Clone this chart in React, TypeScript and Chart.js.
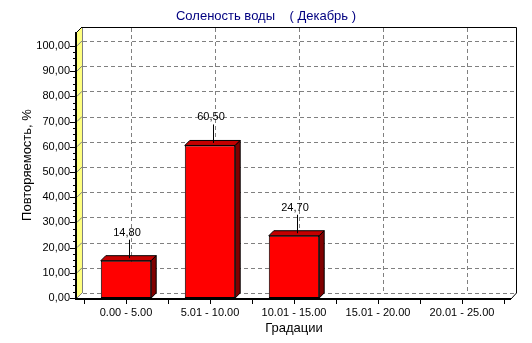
import React, { useEffect, useRef } from "react";
import { Chart, registerables } from "chart.js";

Chart.register(...registerables);

const titleText = "Соленость воды    ( Декабрь )";
const xAxisTitle = "Градации";
const yAxisTitle = "Повторяемость, %";
const categories = ["0.00 - 5.00", "5.01 - 10.00", "10.01 - 15.00", "15.01 - 20.00", "20.01 - 25.00"];
const values = [14.8, 60.5, 24.7, 0, 0];
const yTicks = [0, 10, 20, 30, 40, 50, 60, 70, 80, 90, 100];
const yMax = 105.5;

const FONT = "'Liberation Sans', Arial, sans-serif";
const D = 5; // 3D depth
const MARGIN = 7; // wall margin outside category area

const fmt = (v: number) => v.toFixed(2).replace(".", ",");

const walls3D = {
  id: "walls3D",
  beforeDatasetsDraw(chart: any) {
    const { ctx, chartArea } = chart;
    const ys = chart.scales.y;
    const xs = chart.scales.x;
    const FL = chartArea.left - MARGIN;
    const FR = chartArea.right + MARGIN;
    const FT = chartArea.top;
    const FB = chartArea.bottom;
    const BL = FL + D, BR = FR + D, BT = FT - D, BB = FB - D;
    ctx.save();
    ctx.fillStyle = "#ffffff";
    ctx.fillRect(BL, BT, BR - BL, BB - BT);
    ctx.fillStyle = "#ffff80";
    ctx.beginPath();
    ctx.moveTo(FL, FT); ctx.lineTo(BL, BT); ctx.lineTo(BL, BB); ctx.lineTo(FL, FB); ctx.closePath();
    ctx.fill();
    ctx.fillStyle = "#ffffff";
    ctx.beginPath();
    ctx.moveTo(FL, FB); ctx.lineTo(BL, BB); ctx.lineTo(BR, BB); ctx.lineTo(FR, FB); ctx.closePath();
    ctx.fill();

    ctx.lineWidth = 1;
    ctx.strokeStyle = "#808080";
    ctx.setLineDash([4, 3]);
    yTicks.forEach((v) => {
      const y = Math.round(ys.getPixelForValue(v) - D) + 0.5;
      ctx.beginPath();
      ctx.moveTo(BL + 1, y); ctx.lineTo(BR, y);
      ctx.stroke();
    });
    categories.forEach((_, i) => {
      const x = Math.round(xs.getPixelForValue(i) + D) + 0.5;
      ctx.beginPath();
      ctx.moveTo(x, BT + 1); ctx.lineTo(x, BB);
      ctx.stroke();
    });
    ctx.setLineDash([]);
    yTicks.forEach((v) => {
      const y = ys.getPixelForValue(v);
      ctx.beginPath();
      ctx.moveTo(FL, y); ctx.lineTo(BL, y - D);
      ctx.stroke();
    });
    ctx.beginPath();
    ctx.moveTo(BL + 0.5, BT); ctx.lineTo(BL + 0.5, BB);
    ctx.stroke();

    ctx.strokeStyle = "#000000";
    ctx.beginPath();
    ctx.moveTo(BL, BT + 0.5); ctx.lineTo(BR + 0.5, BT + 0.5); ctx.lineTo(BR + 0.5, BB);
    ctx.stroke();
    ctx.beginPath();
    ctx.moveTo(FL, FT); ctx.lineTo(BL, BT);
    ctx.stroke();
    ctx.beginPath();
    ctx.moveTo(FR, FB + 1); ctx.lineTo(BR + 0.5, BB);
    ctx.stroke();
    ctx.lineWidth = 2;
    ctx.beginPath();
    ctx.moveTo(FL - 1, FT); ctx.lineTo(FL - 1, FB + 2);
    ctx.stroke();
    ctx.beginPath();
    ctx.moveTo(FL - 2, FB + 1); ctx.lineTo(FR, FB + 1);
    ctx.stroke();

    ctx.lineWidth = 1;
    yTicks.forEach((v, i) => {
      const y = Math.round(ys.getPixelForValue(v)) + 0.5;
      ctx.beginPath();
      ctx.moveTo(FL - 7, y); ctx.lineTo(FL - 2, y);
      ctx.stroke();
      if (i < yTicks.length - 1) {
        const step = (yTicks[i + 1] - v) / 4;
        for (let k = 1; k < 4; k++) {
          const ym = Math.round(ys.getPixelForValue(v + step * k)) + 0.5;
          ctx.beginPath();
          ctx.moveTo(FL - 4, ym); ctx.lineTo(FL - 2, ym);
          ctx.stroke();
        }
      }
    });
    for (let i = -0.5; i <= categories.length - 0.5; i += 0.5) {
      const x = Math.round(xs.getPixelForValue(0) + i * (xs.getPixelForValue(1) - xs.getPixelForValue(0))) + 0.5;
      ctx.beginPath();
      ctx.moveTo(x, FB + 2); ctx.lineTo(x, FB + 6);
      ctx.stroke();
    }
    ctx.restore();
  },
};

const bars3D = {
  id: "bars3D",
  afterDatasetsDraw(chart: any) {
    const { ctx } = chart;
    const meta = chart.getDatasetMeta(0);
    ctx.save();
    meta.data.forEach((bar: any, i: number) => {
      const v = values[i];
      if (!v) return;
      const { x, y, base, width } = bar.getProps(["x", "y", "base", "width"], true);
      const l = x - width / 2;
      const r = x + width / 2;
      ctx.lineWidth = 1;
      ctx.strokeStyle = "#000000";
      ctx.fillStyle = "#c40000";
      ctx.beginPath();
      ctx.moveTo(l, y); ctx.lineTo(l + D, y - D); ctx.lineTo(r + D, y - D); ctx.lineTo(r, y); ctx.closePath();
      ctx.fill(); ctx.stroke();
      ctx.fillStyle = "#800000";
      ctx.beginPath();
      ctx.moveTo(r, y); ctx.lineTo(r + D, y - D); ctx.lineTo(r + D, base - D); ctx.lineTo(r, base); ctx.closePath();
      ctx.fill(); ctx.stroke();
      const lx = Math.round(x + D / 2) + 0.5;
      ctx.beginPath();
      ctx.moveTo(lx, y - D / 2); ctx.lineTo(lx, y - 21);
      ctx.stroke();
      ctx.fillStyle = "#000000";
      ctx.font = `11px ${FONT}`;
      ctx.textAlign = "center";
      ctx.textBaseline = "middle";
      ctx.fillText(fmt(v), x + 1, y - 28);
    });
    ctx.restore();
  },
};

export default function App() {
  const ref = useRef<HTMLCanvasElement | null>(null);
  useEffect(() => {
    if (!ref.current) return;
    const chart = new Chart(ref.current, {
      type: "bar",
      data: {
        labels: categories,
        datasets: [
          {
            data: values,
            backgroundColor: "#ff0000",
            borderColor: "#000000",
            borderWidth: 1,
            borderSkipped: false,
            categoryPercentage: 1,
            barPercentage: 0.6,
          },
        ],
      },
      options: {
        responsive: false,
        animation: false,
        devicePixelRatio: 1,
        layout: { padding: 0 },
        plugins: {
          legend: { display: false },
          tooltip: { enabled: false },
          title: {
            display: true,
            text: titleText,
            color: "#000080",
            font: { family: FONT, size: 13, weight: "normal" },
            padding: { top: 8.4, bottom: 8 },
          },
        },
        scales: {
          x: {
            offset: true,
            grid: { display: false, drawTicks: false },
            border: { display: false },
            ticks: { color: "#000000", font: { family: FONT, size: 11 }, padding: 8, maxRotation: 0, autoSkip: false },
            title: {
              display: true,
              text: xAxisTitle,
              color: "#000000",
              font: { family: FONT, size: 13 },
              padding: { top: 0, bottom: 7 },
            },
            afterFit: (s: any) => { s.height = 45; },
          },
          y: {
            min: 0,
            max: yMax,
            grid: { display: false, drawTicks: false },
            border: { display: false },
            afterBuildTicks: (s: any) => { s.ticks = yTicks.map((v) => ({ value: v })); },
            ticks: {
              color: "#000000",
              font: { family: FONT, size: 11 },
              padding: 14,
              callback: (v: any) => fmt(Number(v)),
            },
            title: {
              display: true,
              text: yAxisTitle,
              color: "#000000",
              font: { family: FONT, size: 13 },
              padding: { top: 20, bottom: 0 },
            },
            afterFit: (s: any) => { s.width = 84; },
          },
          yRight: {
            position: "right",
            display: true,
            grid: { display: false, drawTicks: false },
            border: { display: false },
            ticks: { display: false },
            afterFit: (s: any) => { s.width = 28; },
          },
        },
      },
      plugins: [walls3D, bars3D],
    });
    return () => chart.destroy();
  }, []);
  return (
    <div style={{ position: "fixed", left: 0, top: 0, width: 532, height: 343, background: "#fff" }}>
      <canvas ref={ref} width={532} height={343} style={{ display: "block" }} />
    </div>
  );
}
